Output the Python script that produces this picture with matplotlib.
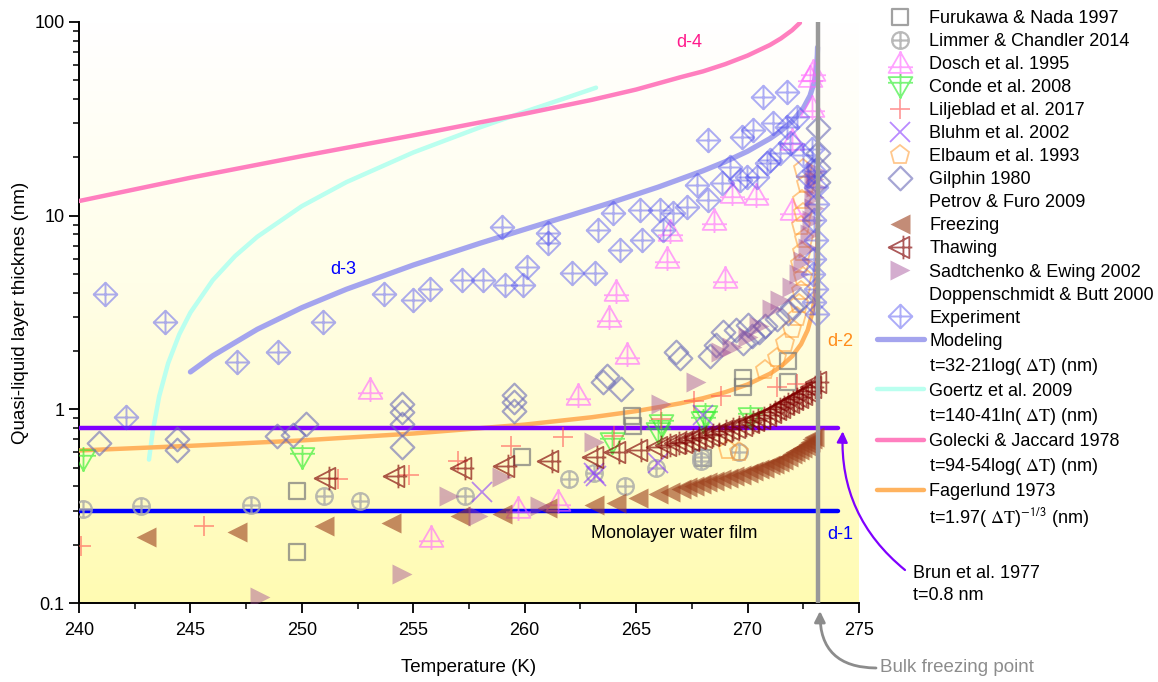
import numpy as np
import matplotlib
matplotlib.use('Agg')
import matplotlib.pyplot as plt
from matplotlib.path import Path
from matplotlib.lines import Line2D
from matplotlib.colors import LinearSegmentedColormap
from matplotlib.ticker import MultipleLocator, FixedLocator, FixedFormatter, NullFormatter, LogLocator

plt.rcParams['font.family'] = ['Liberation Sans', 'DejaVu Sans']
plt.rcParams['mathtext.fontset'] = 'stix'

# ---- data (T in K, thickness in nm) ----
fur_T = [249.8, 249.8, 259.9, 264.8, 264.85, 268.0, 269.8, 269.8, 271.8, 271.8]
fur_t = [0.378, 0.183, 0.57, 0.92, 0.82, 0.56, 1.46, 1.31, 1.77, 1.39]

lim_T = [240.2, 242.8, 247.7, 251.0, 252.6, 257.3, 262.0, 263.1, 264.5, 265.9, 267.9, 267.9, 269.6]
lim_t = [0.305, 0.316, 0.32, 0.355, 0.336, 0.355, 0.435, 0.47, 0.40, 0.50, 0.54, 0.57, 0.60]

dos_T = [253.05, 255.8, 259.7, 261.5, 262.4, 263.8, 264.1, 264.6, 266.4, 266.5, 268.5, 269.0,
         269.3, 270.4, 272.0, 272.0, 272.8, 272.9, 272.95]
dos_t = [1.27, 0.22, 0.31, 0.335, 1.19, 2.98, 4.1, 1.92, 6.07, 8.3, 9.5, 4.79,
         13.1, 12.8, 10.7, 24.6, 52, 36.6, 56]

con_T = [240.2, 250.0, 263.9, 266.1, 266.0, 268.1, 268.0, 270.1]
con_t = [0.553, 0.565, 0.68, 0.84, 0.76, 0.94, 0.87, 0.91]

lil_T = [240.1, 245.6, 251.6, 254.8, 257.0, 259.4, 261.7, 264.0, 266.1, 267.6, 268.8, 271.3, 272.2]
lil_t = [0.196, 0.25, 0.435, 0.46, 0.54, 0.645, 0.72, 0.73, 0.89, 1.1, 1.17, 1.31, 1.35]

blu_T = [258.1, 263.1, 263.2, 266.0, 268.0]
blu_t = [0.373, 0.47, 0.45, 0.53, 0.94]

elb_T = [269.1, 269.6, 270.8, 271.3, 271.7, 272.0, 272.2, 272.3, 272.4, 272.5, 272.35,
         272.45, 272.55, 272.4, 272.5, 272.45, 272.6, 272.5]
elb_t = [0.62, 0.60, 1.6, 1.85, 2.2, 2.6, 3.0, 3.5, 4.1, 4.8, 5.6,
         6.5, 7.6, 8.8, 10.3, 12.0, 14.5, 17.5]

gil_T = [240.9, 244.4, 244.4, 248.9, 249.6, 250.2, 254.5, 254.5, 254.5, 254.5, 259.5, 259.5,
         259.5, 263.5, 263.7, 264.3, 266.8, 266.95, 268.3, 268.6, 268.9, 269.5, 269.8, 270.0,
         270.2, 270.5, 270.8, 271.3, 271.8, 272.0, 272.35, 273.15, 273.15, 273.15, 273.15]
gil_t = [0.67, 0.70, 0.62, 0.73, 0.74, 0.84, 1.06, 0.97, 0.84, 0.64, 1.19, 1.09,
         0.98, 1.38, 1.48, 1.27, 1.97, 1.85, 1.88, 2.16, 2.5, 2.58, 2.2, 2.74,
         2.38, 2.5, 2.68, 2.91, 3.16, 3.39, 3.69, 28.4, 21.1, 17.7, 15.0]

frz_T = [243.0, 247.1, 251.0, 254.0, 257.1, 259.0, 261.0, 263.1, 264.1, 265.1, 266.0, 266.5,
         267.0, 267.3, 267.6, 267.9, 268.2, 268.5, 268.8, 269.1, 269.4, 269.7, 270.0, 270.25,
         270.5, 270.75, 271.0, 271.2, 271.4, 271.6, 271.8, 272.0, 272.15, 272.3, 272.45, 272.6,
         272.7, 272.8, 272.9, 273.0]
frz_t = [0.218, 0.232, 0.25, 0.26, 0.28, 0.288, 0.31, 0.32, 0.33, 0.35, 0.365, 0.375,
         0.387, 0.395, 0.40, 0.41, 0.42, 0.428, 0.435, 0.44, 0.45, 0.457, 0.47, 0.48,
         0.49, 0.50, 0.515, 0.525, 0.535, 0.55, 0.565, 0.585, 0.60, 0.615, 0.63, 0.65,
         0.665, 0.68, 0.70, 0.72]

thw_T = [251.1, 254.2, 257.2, 259.1, 261.1, 263.1, 264.1, 265.1, 266.0, 266.4, 266.8, 267.1,
         267.4, 267.7, 268.0, 268.3, 268.6, 268.9, 269.2, 269.5, 269.8, 270.1, 270.35, 270.6,
         270.85, 271.1, 271.3, 271.5, 271.7, 271.9, 272.1, 272.3, 272.5, 272.7, 272.9, 273.1]
thw_t = [0.44, 0.45, 0.50, 0.51, 0.54, 0.57, 0.60, 0.62, 0.64, 0.655, 0.67, 0.68,
         0.695, 0.71, 0.72, 0.735, 0.75, 0.77, 0.79, 0.81, 0.83, 0.86, 0.88, 0.90,
         0.94, 0.97, 1.0, 1.03, 1.06, 1.09, 1.13, 1.16, 1.2, 1.25, 1.3, 1.38]

sad_T = [248.1, 254.5, 256.6, 257.9, 259.0, 260.7, 263.1, 266.1, 267.7, 268.8, 269.3, 270.0,
         270.5, 271.1, 271.45, 272.0, 272.3, 272.5, 272.7, 272.8, 272.9, 273.0, 273.0, 273.05,
         273.0, 273.05]
sad_t = [0.107, 0.141, 0.356, 0.28, 0.446, 0.316, 0.675, 1.06, 1.38, 1.97, 2.11, 2.35,
         2.7, 3.28, 3.69, 4.3, 5.0, 5.8, 6.8, 8.0, 9.5, 11.0, 12.5, 14.0, 15.5, 17.0]

exp_T = [241.15, 242.1, 243.85, 247.08, 248.92, 250.94, 253.67, 254.97, 255.74, 257.18, 258.12,
         259.11, 259.91, 260.09, 258.97, 261.04, 261.04, 262.11, 263.14, 263.28, 263.95, 264.27,
         265.16, 265.25, 266.06, 266.19, 266.64, 267.27, 267.72, 268.21, 268.21, 268.84, 269.2,
         269.65, 269.74, 270.24, 269.97, 270.42, 270.87, 271.13, 270.69, 271.76, 271.0, 271.45,
         271.9, 272.21, 271.76, 272.5, 272.7, 272.9, 273.0, 273.05, 273.1, 273.0, 273.05, 273.0,
         272.95, 273.05, 273.0, 273.1]
exp_t = [3.92, 0.91, 2.81, 1.75, 1.97, 2.81, 3.92, 3.65, 4.16, 4.68, 4.68,
         4.41, 4.41, 5.46, 8.77, 8.18, 7.2, 5.08, 5.08, 8.44, 10.35, 6.68,
         10.74, 7.52, 10.74, 8.44, 10.35, 11.1, 14.4, 12.0, 24.6, 14.8, 17.9,
         15.3, 25.5, 27.7, 15.9, 15.9, 18.7, 30.2, 41.1, 43.6, 19.4, 21.1,
         23.7, 32.3, 28.7, 20.5, 16.0, 22.0, 17.0, 14.0, 11.5, 9.5, 7.5, 6.0,
         5.0, 4.2, 3.6, 3.1]

# model curves
mod_T = [245, 246, 248, 250, 252, 255, 258, 260, 262, 264, 266, 268, 269, 270, 271, 271.5,
         272, 272.5, 272.8, 273.0, 273.1, 273.13, 273.14]
mod_t = [1.56, 1.89, 2.59, 3.35, 4.17, 5.56, 7.21, 8.5, 10.0, 11.8, 14.06, 17.05, 19.0, 21.5,
         25.0, 27.4, 30.7, 35.9, 41.6, 49.3, 59.3, 67.7, 74.0]

goe_T = [243.14, 243.3, 243.6, 244.0, 244.5, 245, 246, 247, 248, 250, 252, 255, 258, 260, 262, 263.2]
goe_t = [0.55, 0.76, 1.17, 1.73, 2.44, 3.16, 4.64, 6.18, 7.78, 11.2, 14.9, 21.2, 28.6, 34.4, 41.1, 45.8]

gol_T = [240, 245, 250, 255, 260, 263, 265, 267, 268, 269, 270, 271, 271.5, 272, 272.35]
gol_t = [11.9, 15.7, 20.3, 26.0, 33.6, 39.6, 44.8, 51.9, 55.6, 60.6, 67.1, 76.05, 82.3, 90.7, 99.0]

fag_T = [240, 245, 250, 255, 260, 263, 265, 267, 268, 269, 270, 271, 271.5, 272, 272.4, 272.7,
         272.9, 273.0, 273.07, 273.11, 273.13, 273.14]
fag_t = [0.613, 0.648, 0.691, 0.750, 0.834, 0.910, 0.979, 1.075, 1.141, 1.226, 1.344, 1.526,
         1.667, 1.88, 2.17, 2.57, 3.13, 3.71, 4.57, 5.76, 7.26, 9.15]

line_T = [240, 274.06]
mono_t = [0.3, 0.3]
brun_t = [0.8, 0.8]
T_melt = 273.15

# ---- marker shapes ----
M, L, C = Path.MOVETO, Path.LINETO, Path.CLOSEPOLY


def shape(pts, strokes=()):
    verts = list(pts) + [pts[0]]
    codes = [M] + [L] * (len(pts) - 1) + [C]
    for a, b in strokes:
        verts += [a, b]
        codes += [M, L]
    return Path(verts, codes)


plus = [((-1, 0), (1, 0)), ((0, -1), (0, 1))]
sq = shape([(-1, -1), (1, -1), (1, 1), (-1, 1)])
circ_plus = Path.make_compound_path(Path.unit_circle(),
                                    Path([(-1, 0), (1, 0), (0, -1), (0, 1)], [M, L, M, L]))
tri_up = shape([(0, 0.9), (-0.95, -0.75), (0.95, -0.75)], [((-1, -0.3), (1, -0.3)), ((0, -1), (0, 1))])
tri_dn = shape([(0, -0.9), (-0.95, 0.75), (0.95, 0.75)], [((-1, 0.3), (1, 0.3)), ((0, -1), (0, 1))])
dia = shape([(0, 1), (1, 0), (0, -1), (-1, 0)])
dia_plus = shape([(0, 1), (1, 0), (0, -1), (-1, 0)], plus)
tri_left = shape([(-1, 0), (0.75, 0.9), (0.75, -0.9)], [((-1, 0), (1, 0)), ((0.25, -1), (0.25, 1))])

fig = plt.figure(figsize=(11.58, 6.82), dpi=100)
ax = fig.add_axes([79 / 1158, 79 / 682, 780 / 1158, 581 / 682])

# background gradient
cmap = LinearSegmentedColormap.from_list('bg', [(0, '#ffffff'), (0.45, '#fffee8'), (1, '#fffbb2')])
ax.imshow(np.linspace(0, 1, 256).reshape(-1, 1), extent=[0, 1, 0, 1], transform=ax.transAxes,
          cmap=cmap, aspect='auto', zorder=0)

kw = dict(ls='none', zorder=4)
h_fur, = ax.plot(fur_T, fur_t, marker=sq, ms=12, mfc='none', mec='#7a7a7a', mew=1.6, alpha=0.7, **kw)
h_lim, = ax.plot(lim_T, lim_t, marker=circ_plus, ms=12, mfc='none', mec='#a8a8a8', mew=1.6, alpha=0.8, **kw)
h_dos, = ax.plot(dos_T, dos_t, marker=tri_up, ms=18, mfc='none', mec='#ff66ff', mew=1.3, alpha=0.6, **kw)
h_con, = ax.plot(con_T, con_t, marker=tri_dn, ms=18, mfc='none', mec='#22ee22', mew=1.3, alpha=0.6, **kw)
h_lil, = ax.plot(lil_T, lil_t, marker='+', ms=15, mec='#ff5050', mew=1.2, alpha=0.6, **kw)
h_blu, = ax.plot(blu_T, blu_t, marker='x', ms=14, mec='#8a3cff', mew=1.3, alpha=0.6, **kw)
h_elb, = ax.plot(elb_T, elb_t, marker='p', ms=14, mfc='none', mec='#ff9a30', mew=1.3, alpha=0.55, **kw)
h_gil, = ax.plot(gil_T, gil_t, marker=dia, ms=17, mfc='none', mec='#6a6ab8', mew=1.6, alpha=0.6, **kw)
h_frz, = ax.plot(frz_T, frz_t, marker='<', ms=15, mfc='#9c3f1c', mec='none', alpha=0.6, **kw)
h_thw, = ax.plot(thw_T, thw_t, marker=tri_left, ms=17, mfc='none', mec='#800000', mew=1.3, alpha=0.65, **kw)
h_sad, = ax.plot(sad_T, sad_t, marker='>', ms=15, mfc='#a04b96', mec='none', alpha=0.45, **kw)
h_exp, = ax.plot(exp_T, exp_t, marker=dia_plus, ms=17, mfc='none', mec='#4848f0', mew=1.4, alpha=0.45, **kw)

# curves
h_mod, = ax.plot(mod_T, mod_t, color='#a4a4ee', lw=3.8, solid_capstyle='round', zorder=3)
h_goe, = ax.plot(goe_T, goe_t, color='#baffef', lw=3.2, solid_capstyle='round', zorder=3)
h_gol, = ax.plot(gol_T, gol_t, color='#ff7fbf', lw=3.2, solid_capstyle='round', zorder=3)
h_fag, = ax.plot(fag_T, fag_t, color='#ffb35f', lw=3.2, solid_capstyle='round', zorder=3)
ax.plot(line_T, mono_t, color='#0000ff', lw=3.2, solid_capstyle='round', zorder=3.5)
ax.plot(line_T, brun_t, color='#7f00ff', lw=3.2, solid_capstyle='round', zorder=3.5)
ax.axvline(T_melt, color='#999999', lw=3.2, zorder=5)

ax.set_xlim(240, 275)
ax.set_ylim(0.1, 100)
ax.set_yscale('log')
ax.xaxis.set_major_locator(MultipleLocator(5))
ax.xaxis.set_minor_locator(MultipleLocator(2.5))
ax.yaxis.set_major_locator(FixedLocator([0.1, 1, 10, 100]))
ax.yaxis.set_major_formatter(FixedFormatter(['0.1', '1', '10', '100']))
ax.yaxis.set_minor_locator(LogLocator(base=10, subs=np.arange(2, 10)))
ax.yaxis.set_minor_formatter(NullFormatter())
ax.tick_params(which='major', length=7, width=1.3, labelsize=13, direction='out')
ax.tick_params(axis='x', which='major', pad=7)
ax.tick_params(which='minor', length=4, width=1.1, direction='out')
for s in ['top', 'right']:
    ax.spines[s].set_visible(False)
for s in ['left', 'bottom']:
    ax.spines[s].set_linewidth(1.4)
ax.set_xlabel('Temperature (K)', fontsize=13.5, labelpad=14)
ax.set_ylabel('Quasi-liquid layer thicknes (nm)', fontsize=13.5, labelpad=4)

ax.text(267.4, 78.6, 'd-4', color='#ff1a8c', fontsize=13, ha='center', va='center')
ax.text(251.84, 5.27, 'd-3', color='#0000ff', fontsize=13, ha='center', va='center')
ax.text(274.14, 2.24, 'd-2', color='#ff8c1a', fontsize=13, ha='center', va='center')
ax.text(274.14, 0.227, 'd-1', color='#0000ff', fontsize=13, ha='center', va='center')
ax.text(266.7, 0.229, 'Monolayer water film', color='black', fontsize=13, ha='center', va='center')

fig.text(913 / 1158, 1 - 573 / 682, 'Brun et al. 1977', fontsize=13, va='center')
fig.text(913 / 1158, 1 - 595 / 682, 't=0.8 nm', fontsize=13, va='center')
ax.annotate('', xy=(274.27, 0.77), xycoords='data', xytext=(905 / 1158, 1 - 570 / 682),
            textcoords='figure fraction', annotation_clip=False,
            arrowprops=dict(arrowstyle='-|>', color='#7f00ff', lw=1.6, mutation_scale=16,
                            connectionstyle='arc3,rad=-0.25', shrinkA=0, shrinkB=0))
fig.text(880 / 1158, 1 - 668 / 682, 'Bulk freezing point', fontsize=13.5, color='#8c8c8c', va='center')
ax.annotate('', xy=(820 / 1158, 1 - 611 / 682), xycoords='figure fraction',
            xytext=(876 / 1158, 1 - 668 / 682), textcoords='figure fraction', annotation_clip=False,
            arrowprops=dict(arrowstyle='-|>', color='#8c8c8c', lw=2, mutation_scale=16,
                            connectionstyle='arc3,rad=-0.5', shrinkA=0, shrinkB=0))

blank = Line2D([], [], ls='none')
handles = [h_fur, h_lim, h_dos, h_con, h_lil, h_blu, h_elb, h_gil, blank, h_frz, h_thw, h_sad,
           blank, h_exp, h_mod, blank, h_goe, blank, h_gol, blank, h_fag, blank]
labels = ['Furukawa & Nada 1997', 'Limmer & Chandler 2014', 'Dosch et al. 1995', 'Conde et al. 2008',
          'Liljeblad et al. 2017', 'Bluhm et al. 2002', 'Elbaum et al. 1993', 'Gilphin 1980',
          'Petrov & Furo 2009', 'Freezing', 'Thawing', 'Sadtchenko & Ewing 2002',
          'Doppenschmidt & Butt 2000', 'Experiment', 'Modeling',
          r't=32-21log( $\Delta\mathrm{T}$) (nm)', 'Goertz et al. 2009',
          r't=140-41ln( $\Delta\mathrm{T}$) (nm)', 'Golecki & Jaccard 1978',
          r't=94-54log( $\Delta\mathrm{T}$) (nm)', 'Fagerlund 1973',
          r't=1.97( $\Delta\mathrm{T}$)$^{\mathsf{-1/3}}$ (nm)']
fig.legend(handles, labels, loc='upper left', bbox_to_anchor=(877 / 1158, 1 - 10 / 682),
           frameon=False, fontsize=13, labelspacing=0.335, handlelength=2.6, handletextpad=0.3,
           borderaxespad=0, borderpad=0)

fig.savefig('out.png', dpi=100)
